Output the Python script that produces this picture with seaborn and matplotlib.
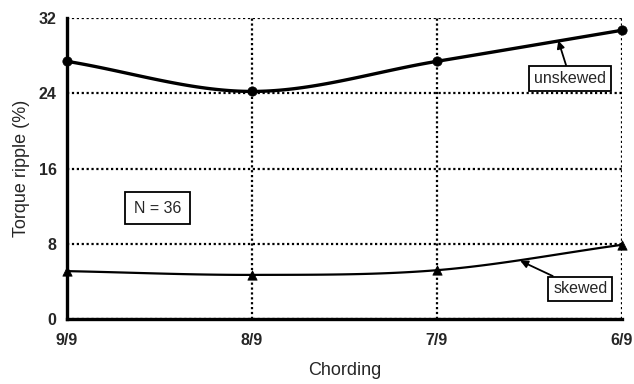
import numpy as np
import pandas as pd
import matplotlib
matplotlib.use("Agg")
import matplotlib.pyplot as plt
import seaborn as sns

chording = ["9/9", "8/9", "7/9", "6/9"]
unskewed = [27.4, 24.2, 27.4, 30.7]
skewed = [5.1, 4.7, 5.2, 7.9]

sns.set_style("white")
plt.rcParams["font.family"] = ["Liberation Sans", "DejaVu Sans"]


def smooth(y, n=40):
    # Catmull-Rom style smoothing for display (Excel-like smoothed line)
    x = np.arange(len(y), dtype=float)
    y = np.asarray(y, dtype=float)
    px = np.concatenate([[2 * x[0] - x[1]], x, [2 * x[-1] - x[-2]]])
    py = np.concatenate([[2 * y[0] - y[1]], y, [2 * y[-1] - y[-2]]])
    xs, ys = [], []
    for i in range(1, len(px) - 2):
        t = np.linspace(0, 1, n, endpoint=(i == len(px) - 3))
        for P, out in ((px, xs), (py, ys)):
            p0, p1, p2, p3 = P[i - 1], P[i], P[i + 1], P[i + 2]
            out.extend(0.5 * ((2 * p1) + (-p0 + p2) * t
                              + (2 * p0 - 5 * p1 + 4 * p2 - p3) * t ** 2
                              + (-p0 + 3 * p1 - 3 * p2 + p3) * t ** 3))
    return np.array(xs), np.array(ys)


fig = plt.figure(figsize=(6.34, 3.84), dpi=100)
ax = fig.add_axes([0.1057, 0.169, 0.8753, 0.784])

df = pd.DataFrame({"x": np.arange(len(chording)), "unskewed": unskewed, "skewed": skewed})

for col, marker, lw in (("unskewed", "o", 2.4), ("skewed", "^", 1.6)):
    sx, sy = smooth(df[col].values)
    sns.lineplot(x=sx, y=sy, ax=ax, color="black", lw=lw, sort=False, estimator=None)
    sns.scatterplot(data=df, x="x", y=col, ax=ax, color="black", marker=marker,
                    s=45, edgecolor="black", zorder=5, clip_on=False)

ax.set_xlim(0, 3)
ax.set_ylim(0, 32)
ax.set_xticks(range(len(chording)))
ax.set_xticklabels(chording)
ax.set_yticks([0, 8, 16, 24, 32])
ax.set_yticks([4, 12, 20, 28], minor=True)

ax.grid(True, which="major", color="black", linestyle=(0, (1, 1.2)), lw=1.6)
ax.set_axisbelow(True)
for s in ("top", "right"):
    ax.spines[s].set_visible(False)
for s in ("left", "bottom"):
    ax.spines[s].set_linewidth(2.4)
    ax.spines[s].set_color("black")

ax.tick_params(axis="both", which="both", direction="inout", length=8, width=2.2,
               color="black", labelsize=11.5)
ax.tick_params(axis="y", which="minor", length=7, width=2.2)
ax.tick_params(axis="x", pad=6)
for lab in ax.get_xticklabels() + ax.get_yticklabels():
    lab.set_fontweight("bold")

ax.set_xlabel("Chording", fontsize=13, labelpad=10)
ax.set_ylabel("Torque ripple (%)", fontsize=13, labelpad=6)

box = dict(boxstyle="square,pad=0.3", fc="white", ec="black", lw=1.3)
ax.annotate("unskewed", xy=(2.656, 29.6), xytext=(2.72, 25.6), fontsize=11.5,
            ha="center", va="center", bbox=box,
            arrowprops=dict(arrowstyle="-|>", color="black", lw=1.3, mutation_scale=11,
                            shrinkA=0, shrinkB=0))
ax.annotate("skewed", xy=(2.45, 6.2), xytext=(2.775, 3.2), fontsize=11.5,
            ha="center", va="center", bbox=box,
            arrowprops=dict(arrowstyle="-|>", color="black", lw=1.3, mutation_scale=11,
                            shrinkA=0, shrinkB=0))
ax.text(0.49, 11.8, "N = 36", fontsize=11.5, ha="center", va="center",
        bbox=dict(boxstyle="square,pad=0.55", fc="white", ec="black", lw=1.3))

fig.savefig("out.png", dpi=100)
